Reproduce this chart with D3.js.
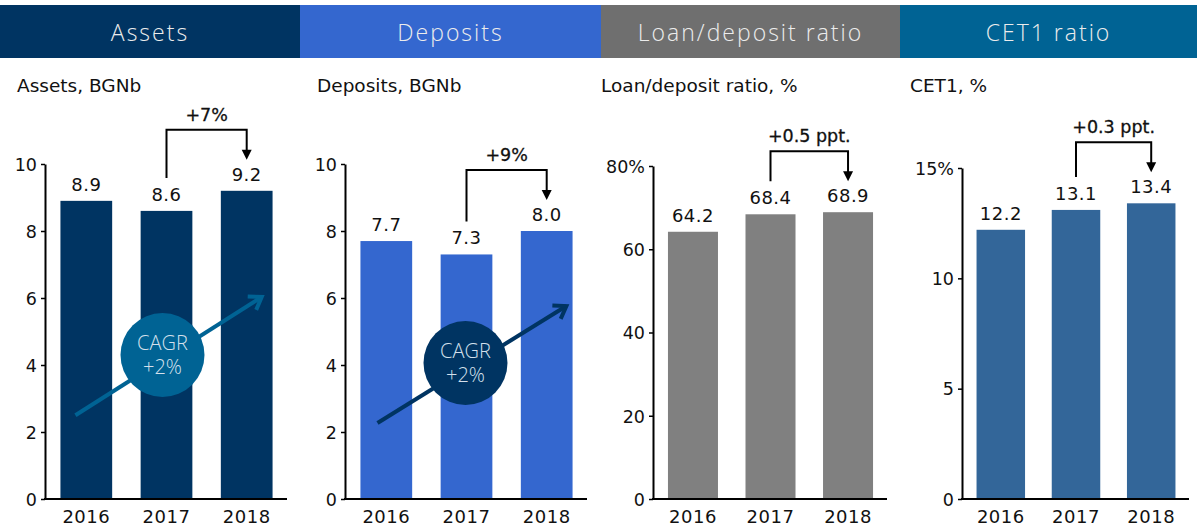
<!DOCTYPE html>
<html><head><meta charset="utf-8">
<script src="https://cdn.jsdelivr.net/npm/d3@7"></script>
<style>
html,body{margin:0;padding:0;background:#fff;}
svg{display:block;}
</style></head>
<body>
<svg id="chart" width="1197" height="526"></svg>
<script>
// ---- data ----
const years = ["2016", "2017", "2018"];
const headers = ["Assets", "Deposits", "Loan/deposit ratio", "CET1 ratio"];
const subtitles = ["Assets, BGNb", "Deposits, BGNb", "Loan/deposit ratio, %", "CET1, %"];
const assets = [8.9, 8.6, 9.2];
const deposits = [7.7, 7.3, 8.0];
const loanDeposit = [64.2, 68.4, 68.9];
const cet1 = [12.2, 13.1, 13.4];
const assetsTicks = [0, 2, 4, 6, 8, 10];
const depositsTicks = [0, 2, 4, 6, 8, 10];
const loanDepositTicks = [0, 20, 40, 60, 80];
const cet1Ticks = [0, 5, 10, 15];
const changeLabels = ["+7%", "+9%", "+0.5 ppt.", "+0.3 ppt."];
const cagrLabels = ["CAGR", "+2%"];
// CAGR arrow annotation in value units (start, end, circle centre)
const cagrStart = [2.5, 2.27];
const cagrEnd = [6.03, 5.76];
const cagrCircle = [4.3, 4.06];

// ---- layout/style ----
const headerColors = ["#003462", "#3467cf", "#6f6f6f", "#006394"];
const barColors = ["#003462", "#3467cf", "#808080", "#336699"];
const cagrColors = ["#006394", "#003462"];
const panels = [
  {x0: 0, w: 300, sub: 17, axisX: 45, top: 164, end: 287, values: assets, ticks: assetsTicks, pct: false},
  {x0: 300, w: 301, sub: 17, axisX: 345, top: 164, end: 587, values: deposits, ticks: depositsTicks, pct: false},
  {x0: 601, w: 299, sub: 0, axisX: 653, top: 166, end: 887, values: loanDeposit, ticks: loanDepositTicks, pct: true},
  {x0: 900, w: 297, sub: 10, axisX: 962, top: 168, end: 1189, values: cet1, ticks: cet1Ticks, pct: true}
];
const baseY = 499;
const numFont = "'DejaVu Sans', Verdana, sans-serif";
const lightFont = "'Open Sans', Lato, sans-serif";

const svg = d3.select("#chart");

panels.forEach((p, i) => {
  const g = svg.append("g");
  // header
  g.append("rect").attr("x", p.x0).attr("y", 5).attr("width", p.w).attr("height", 53)
    .attr("fill", headerColors[i]);
  g.append("text").attr("x", p.x0 + p.w / 2).attr("y", 41)
    .attr("text-anchor", "middle").attr("fill", "#ececec")
    .style("font-family", lightFont).style("font-weight", 300)
    .style("font-size", "23px").style("letter-spacing", "2px")
    .text(headers[i]);
  // subtitle
  g.append("text").attr("x", p.x0 + p.sub).attr("y", 92)
    .style("font-family", numFont).style("font-size", "18.5px").attr("fill", "#111")
    .text(subtitles[i]);

  const maxT = p.ticks[p.ticks.length - 1];
  const y = d3.scaleLinear().domain([0, maxT]).range([baseY, p.top]);
  const x = d3.scaleBand().domain(years).range([p.axisX + 1, p.end])
    .paddingInner(0.355).paddingOuter(0.18);
  const bw = x.bandwidth();

  // bars
  g.selectAll("rect.bar").data(p.values).join("rect").attr("class", "bar")
    .attr("x", (d, j) => x(years[j])).attr("width", bw)
    .attr("y", d => y(d)).attr("height", d => baseY - y(d))
    .attr("fill", barColors[i]);

  // value labels
  g.selectAll("text.val").data(p.values).join("text").attr("class", "val")
    .attr("x", (d, j) => x(years[j]) + bw / 2).attr("y", d => y(d) - 10)
    .attr("text-anchor", "middle")
    .style("font-family", numFont).style("font-size", "18px").style("letter-spacing", "0.5px")
    .attr("fill", "#111")
    .text(d => d.toFixed(1));

  // y axis
  const ya = d3.axisLeft(y).tickValues(p.ticks).tickSize(4).tickSizeOuter(0).tickPadding(4)
    .tickFormat(d => (p.pct && d === maxT) ? d + "%" : d);
  const yg = g.append("g").attr("transform", `translate(${p.axisX},0)`).call(ya);
  yg.select(".domain").attr("stroke", "#000").attr("stroke-width", 2);
  yg.selectAll(".tick line").attr("stroke", "#000").attr("stroke-width", 1.5);
  yg.selectAll(".tick text").style("font-family", numFont).style("font-size", "17.5px")
    .attr("fill", "#111").attr("dy", "0.36em");

  // x axis
  const xa = d3.axisBottom(x).tickSize(0).tickSizeOuter(0).tickPadding(0);
  const xg = g.append("g").attr("transform", `translate(0,${baseY})`).call(xa);
  xg.select(".domain").attr("d", `M${p.axisX - 1},0H${p.end}`)
    .attr("stroke", "#000").attr("stroke-width", 2);
  xg.selectAll(".tick text").style("font-family", numFont).style("font-size", "18px")
    .style("letter-spacing", "0.5px")
    .attr("fill", "#111").attr("y", 24).attr("dy", 0);

  // CAGR annotation
  if (i < 2) {
    const x1 = x(years[0]) + bw * (i === 0 ? 0.29 : 0.33);
    const y1 = y(cagrStart[i]);
    const x2 = x(years[2]) + bw * (i === 0 ? 0.79 : 0.88);
    const y2 = y(cagrEnd[i]);
    const col = cagrColors[i];
    g.append("line").attr("x1", x1).attr("y1", y1).attr("x2", x2).attr("y2", y2)
      .attr("stroke", col).attr("stroke-width", 4);
    const ang = Math.atan2(y2 - y1, x2 - x1);
    const L = 14, a = 0.6;
    const head = d3.path();
    head.moveTo(x2 - L * Math.cos(ang - a), y2 - L * Math.sin(ang - a));
    head.lineTo(x2, y2);
    head.lineTo(x2 - L * Math.cos(ang + a), y2 - L * Math.sin(ang + a));
    g.append("path").attr("d", head.toString()).attr("fill", "none")
      .attr("stroke", col).attr("stroke-width", 4).attr("stroke-linejoin", "miter");
    const cx = x(years[1]) + bw / 2 - (i === 0 ? 4 : 1);
    const cy = y(cagrCircle[i]);
    g.append("circle").attr("cx", cx).attr("cy", cy).attr("r", 42).attr("fill", col);
    const st = t => t.attr("text-anchor", "middle")
      .attr("fill", "#d4e0ec").style("font-family", lightFont).style("font-weight", 300)
      .style("font-size", "20px");
    st(g.append("text")).attr("x", cx).attr("y", cy - 5).text(cagrLabels[0]);
    st(g.append("text")).attr("x", cx).attr("y", cy + 19).text(cagrLabels[1]);
  }

  // change bracket 2017 -> 2018
  const bx1 = x(years[1]) + bw / 2;
  const bx2 = x(years[2]) + bw / 2;
  const bBottom = y(p.values[1]) - 33;
  const bTop = y(p.values[2]) - 61;
  const tip = y(p.values[2]) - 31;
  g.append("path")
    .attr("d", `M${bx1},${bBottom}V${bTop}H${bx2}V${tip - 9}`)
    .attr("fill", "none").attr("stroke", "#000").attr("stroke-width", 2);
  g.append("path")
    .attr("d", `M${bx2 - 5},${tip - 10}L${bx2 + 5},${tip - 10}L${bx2},${tip}Z`)
    .attr("fill", "#000");
  g.append("text").attr("x", (bx1 + bx2) / 2).attr("y", bTop - 9)
    .attr("text-anchor", "middle")
    .style("font-family", numFont).style("font-size", "17.5px")
    .attr("fill", "#111").attr("stroke", "#111").attr("stroke-width", 0.3)
    .text(changeLabels[i]);
});
</script>
</body></html>
